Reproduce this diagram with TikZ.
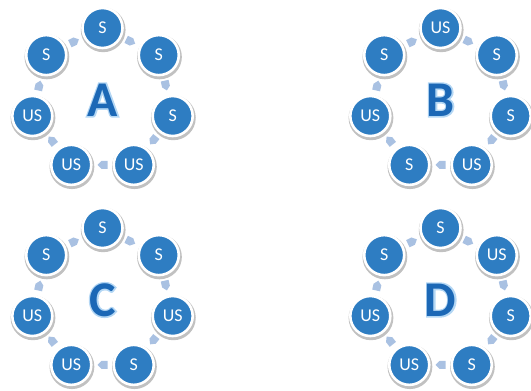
\documentclass[tikz,border=0pt]{standalone}
\usepackage{fontspec}
\setmainfont{Carlito}
\newfontfamily\glowfont[FakeBold=6]{Carlito Bold}
\newfontfamily\letterfont{Carlito Bold}
\usetikzlibrary{shadows,calc}
\definecolor{nodeblue}{HTML}{2E7DC2}
\definecolor{arrowblue}{HTML}{A9C1E2}
\definecolor{letterblue}{HTML}{1C68B6}
\definecolor{glowblue}{HTML}{B4D7F4}
\tikzset{
  circ/.style={circle, fill=nodeblue, draw=white, line width=2.6pt,
    minimum size=40pt, inner sep=0pt, text=white,
    font=\fontsize{18}{18}\selectfont,
    drop shadow={shadow xshift=0.6pt, shadow yshift=-1.6pt, shadow scale=1.12,
      opacity=0.35, fill=black!70}},
  arr/.style={fill=arrowblue},
  bigletter/.style={text=letterblue, font=\letterfont\fontsize{50}{50}\selectfont,
    inner sep=0pt},
  glowletter/.style={text=glowblue, font=\glowfont\fontsize{50}{50}\selectfont,
    inner sep=0pt}
}
\begin{document}
\begin{tikzpicture}[x=1pt,y=-1pt]
\useasboundingbox (0,0) rectangle (531,391);
\foreach \nm/\cx/\cy/\lab/\La/\Lb/\Lc/\Ld/\Le/\Lf/\Lg in {
  A/102.5/100/A/S/S/S/US/US/US/S,
  B/440.5/100/B/US/S/S/US/S/US/S,
  C/102.5/300/C/S/S/US/S/US/US/S,
  D/440.5/300/D/S/US/S/S/US/US/S}{
  \coordinate (\nm c) at (\cx,\cy);
  \node[glowletter] (\nm G) at (\cx,\cy) {\lab};
  \node[bigletter] (\nm L) at (\cx,\cy) {\lab};
  \foreach \k/\t in {0/\La,1/\Lb,2/\Lc,3/\Ld,4/\Le,5/\Lf,6/\Lg}{
    \pgfmathsetmacro{\ang}{-90+\k*360/7}
    \node[circ] (\nm\k) at ($(\nm c)+({72*cos(\ang)},{72*sin(\ang)})$) {\t};
  }
  \foreach \k in {0,...,6}{
    \pgfmathsetmacro{\mang}{-90+\k*360/7+180/7}
    \pgfmathsetmacro{\rot}{-(\mang+90)}
    \coordinate (\nm a\k) at ($(\nm c)+({64.9*cos(\mang)},{64.9*sin(\mang)})$);
    \fill[arr, shift={(\nm a\k)}, rotate=\rot]
      (-5,-4) -- (1,-4) -- (5,0) -- (1,4) -- (-5,4) -- cycle;
  }
}
\end{tikzpicture}
\end{document}
